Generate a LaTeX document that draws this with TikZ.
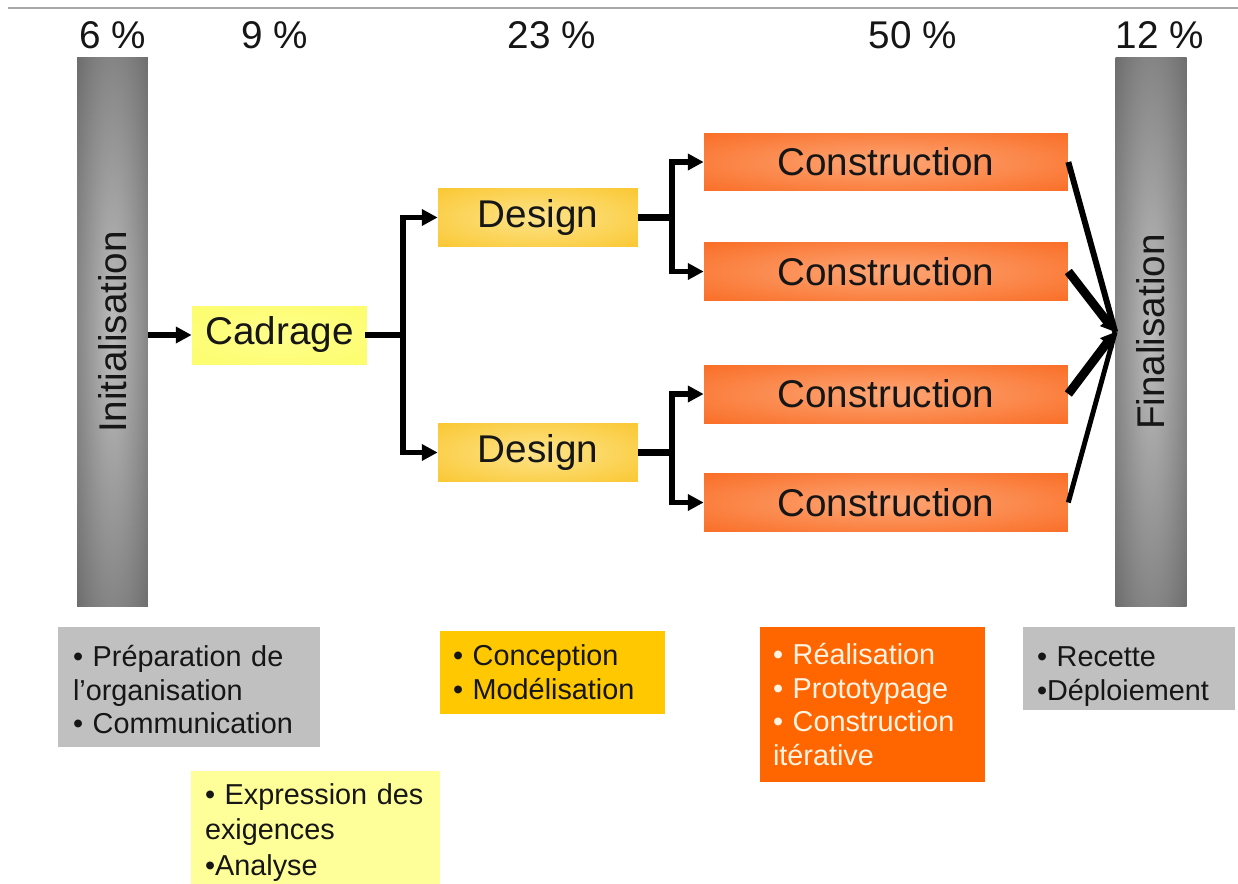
\documentclass[tikz,border=0pt]{standalone}
\usepackage{fontspec}
\setmainfont{Liberation Sans}
\usetikzlibrary{arrows.meta}

% palette
\definecolor{textdark}{HTML}{161616}
\definecolor{bardark}{HTML}{4C4C4C}
\definecolor{barlight}{HTML}{BDBDBD}
\definecolor{cadragecenter}{HTML}{FFFF8C}
\definecolor{cadrageedge}{HTML}{FBFB5C}
\definecolor{designcenter}{HTML}{FDE48A}
\definecolor{designedge}{HTML}{F9C01C}
\definecolor{buildcenter}{HTML}{FDA676}
\definecolor{buildedge}{HTML}{F96418}
\definecolor{notegray}{HTML}{C0C0C0}
\definecolor{notegold}{HTML}{FFC800}
\definecolor{noteyellow}{HTML}{FFFF99}
\definecolor{noteorange}{HTML}{FF6600}
\definecolor{notecream}{HTML}{FFF4E4}
\definecolor{rulegray}{HTML}{A8A8A8}

% shadings: light centre fading to the edges
\pgfdeclareradialshading{barshade}{\pgfpoint{0bp}{0bp}}{color(0bp)=(barlight); color(50bp)=(bardark); color(100bp)=(bardark)}
\pgfdeclareradialshading{cadrageshade}{\pgfpoint{0bp}{0bp}}{color(0bp)=(cadragecenter); color(55bp)=(cadrageedge); color(100bp)=(cadrageedge)}
\pgfdeclareradialshading{designshade}{\pgfpoint{0bp}{0bp}}{color(0bp)=(designcenter); color(45bp)=(designedge); color(100bp)=(designedge)}
\pgfdeclareradialshading{buildshade}{\pgfpoint{0bp}{0bp}}{color(0bp)=(buildcenter); color(42bp)=(buildedge); color(100bp)=(buildedge)}

\newcommand\diagbig{\fontsize{22}{26}\selectfont}
\newcommand\diagnote{\fontsize{16.4}{19.3}\selectfont}

\begin{document}
\begin{tikzpicture}[
  x=0.02cm, y=-0.02cm,
  bar/.style={rectangle, minimum width=1.42cm, minimum height=11cm, inner sep=0pt, shading=barshade},
  bartext/.style={rotate=90, font=\diagbig, text=textdark, inner sep=0pt},
  stage/.style={rectangle, minimum height=1.16cm, inner sep=0pt, font=\diagbig, text=textdark},
  cadragebox/.style={stage, minimum width=3.5cm, shading=cadrageshade},
  designbox/.style={stage, minimum width=4cm, shading=designshade},
  buildbox/.style={stage, minimum width=7.28cm, shading=buildshade},
  note/.style={rectangle, align=left, font=\diagnote, text=textdark, inner ysep=0pt},
  pct/.style={font=\diagbig, text=textdark, inner sep=0pt},
  link/.style={draw=black, line width=3pt, -{Triangle[length=9pt,width=9pt]}},
  plain/.style={draw=black, line width=3pt, line cap=rect},
  heavy/.style={draw=black, line width=4.5pt},
]
\useasboundingbox (0,0) rectangle (1238,883);
\fill[white] (0,0) rectangle (1238,883);

% rule across the top
\draw[rulegray, line width=1pt] (8,8) -- (1238,8);

% share of effort per phase
\node[pct] (p6)  at (113,35)  {6 \%};
\node[pct] (p9)  at (275,35)  {9 \%};
\node[pct] (p23) at (552,35)  {23 \%};
\node[pct] (p50) at (913,35)  {50 \%};
\node[pct] (p12) at (1160,35) {12 \%};

% start and end bars
\node[bar] (init) at (112.5,332) {};
\node[bartext] (initlabel) at (init.center) {Initialisation};
\node[bar] (fin) at (1151,332) {};
\node[bartext] (finlabel) at (fin.center) {Finalisation};

% phases
\node[cadragebox] (cadrage) at (279.5,335) {Cadrage};
\node[designbox] (design1) at (538,217.5) {Design};
\node[designbox] (design2) at (538,452.5) {Design};
\node[buildbox] (c1) at (886,162)   {Construction};
\node[buildbox] (c2) at (886,271.5) {Construction};
\node[buildbox] (c3) at (886,394)   {Construction};
\node[buildbox] (c4) at (886,502.5) {Construction};

% branching points
\coordinate (split0) at (403,335);
\coordinate (split1) at (672,217.5);
\coordinate (split2) at (672,452.5);

% connectors
\draw[link] (init.east |- cadrage.west) -- (cadrage.west);
\draw[plain] (cadrage.east) -- (split0);
\draw[plain] (design1.west -| split0) -- (design2.west -| split0);
\draw[link] (design1.west -| split0) -- (design1.west);
\draw[link] (design2.west -| split0) -- (design2.west);

\draw[heavy] (design1.east) -- (split1);
\draw[plain] (c1.west -| split1) -- (c2.west -| split1);
\draw[link] (c1.west -| split1) -- (c1.west);
\draw[link] (c2.west -| split1) -- (c2.west);

\draw[heavy] (design2.east) -- (split2);
\draw[plain] (c3.west -| split2) -- (c4.west -| split2);
\draw[link] (c3.west -| split2) -- (c3.west);
\draw[link] (c4.west -| split2) -- (c4.west);

\draw[black, line width=3.4pt] (c1.east) -- (fin.west);
\draw[black, line width=5pt, -{Triangle[length=8pt,width=9pt]}] (c2.east) -- (fin.west);
\draw[black, line width=5pt, -{Triangle[length=8pt,width=9pt]}] (c3.east) -- (fin.west);
\draw[black, line width=2.8pt] (c4.east) -- (fin.west);

% activity notes
\node[note, fill=notegray, text width=4.64cm, inner xsep=0.3cm, minimum height=2.4cm] (n1) at (189,687)
  {\rule{0pt}{15pt}• Préparation de\\l’organisation\\• Communication};
\node[note, fill=noteyellow, text width=4.42cm, inner xsep=0.28cm, minimum height=2.26cm] (n2) at (315.5,827)
  {\rule{0pt}{18pt}• Expression des\\[1pt]exigences\\[1pt]•Analyse};
\node[note, fill=notegold, text width=3.98cm, inner xsep=0.26cm, minimum height=1.66cm] (n3) at (552.5,672.5)
  {• Conception\\• Modélisation};
\node[note, fill=noteorange, text=notecream, text width=3.98cm, inner xsep=0.26cm, minimum height=3.1cm] (n4) at (872.5,704.5)
  {• Réalisation\\• Prototypage\\• Construction\\itérative};
\node[note, fill=notegray, text width=3.68cm, inner xsep=0.28cm, minimum height=1.66cm] (n5) at (1129,668.5)
  {\rule{0pt}{20pt}• Recette\\•Déploiement};
\end{tikzpicture}
\end{document}
